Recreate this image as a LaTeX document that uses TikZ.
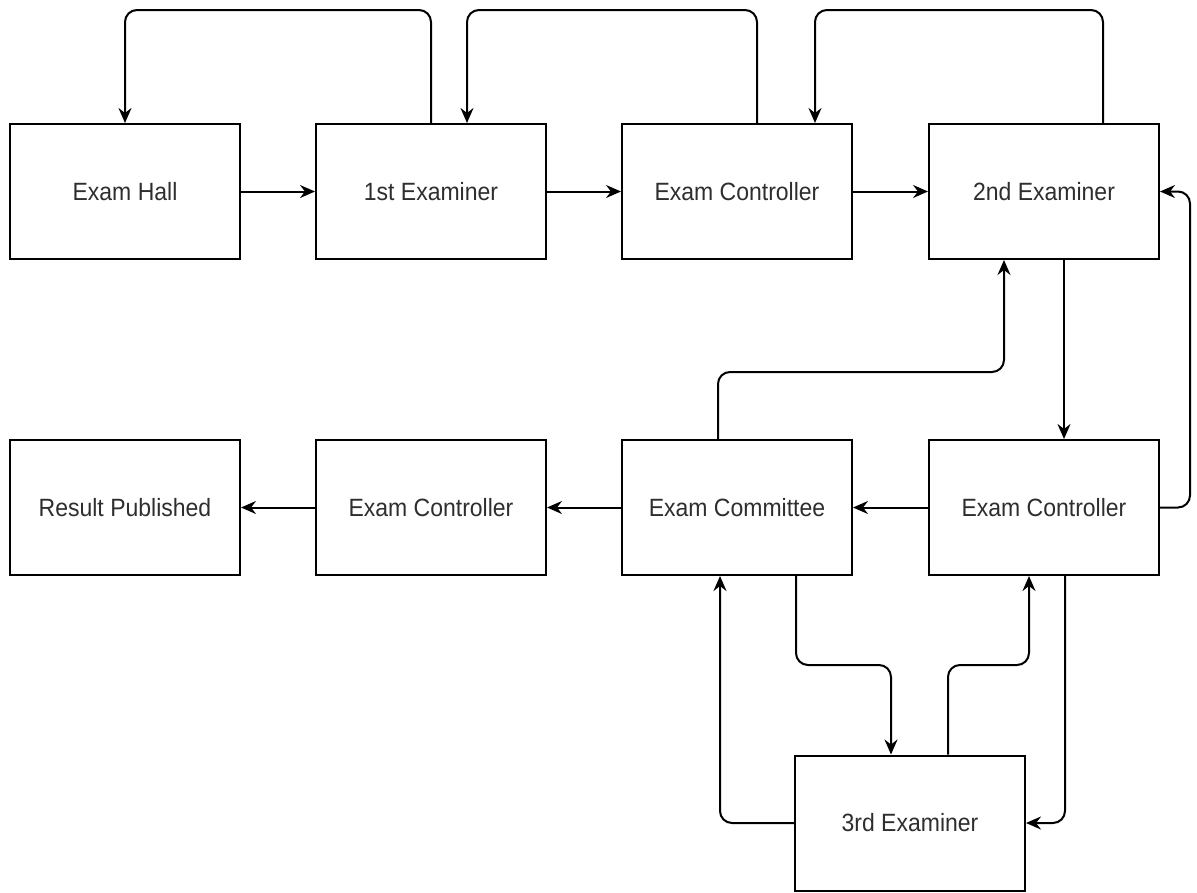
\documentclass[tikz,border=0pt]{standalone}
\usepackage{fontspec}
\setmainfont[FakeStretch=0.92]{Liberation Sans}
\usetikzlibrary{arrows.meta}
\begin{document}
\begin{tikzpicture}[x=1pt,y=-1pt,
  box/.style={draw=black,line width=2pt,minimum width=230pt,minimum height=135pt,
    inner sep=0pt,font=\fontsize{25}{30}\selectfont,text=black!82},
  conn/.style={line width=2pt,rounded corners=12pt,
    -{Stealth[length=15pt,width=13pt,inset=5pt]}}]
\useasboundingbox (0,0) rectangle (1197,892);

% boxes
\node[box] (hall)  at (125,191.5)  {Exam Hall};
\node[box] (ex1)   at (431,191.5)  {1st Examiner};
\node[box] (ctrlA) at (737,191.5)  {Exam Controller};
\node[box] (ex2)   at (1044,191.5) {2nd Examiner};
\node[box] (res)   at (125,507.5)  {Result Published};
\node[box] (ctrlC) at (431,507.5)  {Exam Controller};
\node[box] (comm)  at (737,507.5)  {Exam Committee};
\node[box] (ctrlB) at (1044,507.5) {Exam Controller};
\node[box] (ex3)   at (910,823)    {3rd Examiner};

% routing levels
\coordinate (topline) at (0,10);
\coordinate (midline) at (0,372);
\coordinate (lowline) at (0,665);
\coordinate (rightline) at (1190,0);

% forward flow along the top row
\draw[conn] (hall) -- (ex1);
\draw[conn] (ex1) -- (ctrlA);
\draw[conn] (ctrlA) -- (ex2);

% return loops above the top row
\draw[conn] (ex1.north) |- (hall.north |- topline) -- (hall.north);
\draw[conn] ([xshift=20pt]ctrlA.north) |- ([xshift=36pt]ex1.north |- topline) -- ([xshift=36pt]ex1.north);
\draw[conn] ([xshift=59pt]ex2.north) |- ([xshift=78pt]ctrlA.north |- topline) -- ([xshift=78pt]ctrlA.north);

% second examiner down to the controller and back
\draw[conn] ([xshift=20pt]ex2.south) -- ([xshift=20pt]ctrlB.north);
\draw[conn] (ctrlB.east) -| (rightline |- ex2.east) -- (ex2.east);
\draw[conn] ([xshift=-19pt]comm.north) |- ([xshift=-40pt]ex2.south |- midline) -- ([xshift=-40pt]ex2.south);

% bottom row flow
\draw[conn] (ctrlB) -- (comm);
\draw[conn] (comm) -- (ctrlC);
\draw[conn] (ctrlC) -- (res);

% third examiner loops
\draw[conn] ([xshift=59pt]comm.south) |- ([xshift=-19pt]ex3.north |- lowline) -- ([xshift=-19pt]ex3.north);
\draw[conn] ([xshift=38pt]ex3.north) |- ([xshift=-15pt]ctrlB.south |- lowline) -- ([xshift=-15pt]ctrlB.south);
\draw[conn] ([xshift=21pt]ctrlB.south) |- (ex3.east);
\draw[conn] (ex3.west) -| ([xshift=-17pt]comm.south);
\end{tikzpicture}
\end{document}
